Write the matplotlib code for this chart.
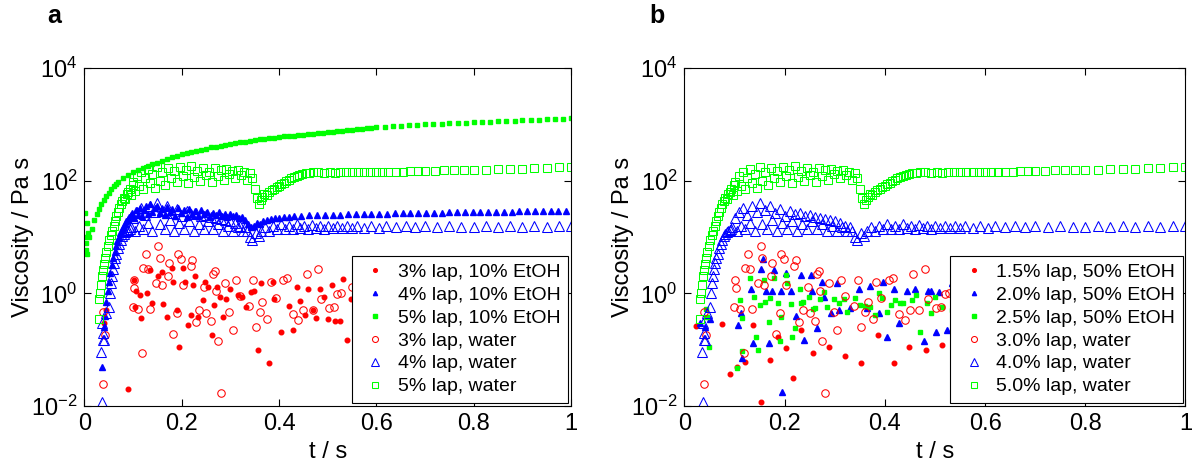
import numpy as np
import matplotlib
matplotlib.use('Agg')
import matplotlib.pyplot as plt
from matplotlib.ticker import NullLocator

plt.rcParams['font.family'] = ['Liberation Sans', 'DejaVu Sans']
plt.rcParams['mathtext.default'] = 'regular'
plt.rcParams['axes.linewidth'] = 0.8

# Datos (t / s, viscosidad / Pa s)

# agua (iguales en a y b)
w_red = [(0.038, 0.025), (0.039, 0.46), (0.043, 0.18), (0.099, 0.58), (0.101, 1.7), (0.103, 1.26),
         (0.111, 0.52), (0.118, 0.089), (0.121, 2.8), (0.126, 5.0), (0.131, 2.7), (0.135, 0.52),
         (0.147, 1.5), (0.152, 6.9), (0.155, 4.2), (0.159, 1.4), (0.172, 2.0), (0.174, 3.5),
         (0.182, 0.19), (0.191, 0.45), (0.193, 5.0), (0.199, 4.0), (0.203, 1.4), (0.219, 3.0),
         (0.222, 3.9), (0.229, 0.31), (0.236, 0.50), (0.246, 1.3), (0.250, 0.44), (0.260, 0.32),
         (0.264, 2.2), (0.268, 2.5), (0.270, 1.1), (0.275, 0.14), (0.280, 0.017), (0.289, 1.5),
         (0.298, 0.47), (0.305, 0.22), (0.312, 1.7), (0.320, 0.90), (0.339, 0.60), (0.346, 1.7),
         (0.352, 0.25), (0.361, 0.47), (0.366, 0.71), (0.376, 0.35), (0.383, 1.6), (0.393, 0.82),
         (0.409, 1.7), (0.417, 1.9), (0.429, 0.43), (0.440, 0.34), (0.450, 0.50), (0.457, 2.2),
         (0.469, 0.50), (0.481, 2.7), (0.486, 0.78), (0.503, 0.54), (0.513, 0.58), (0.520, 0.97),
         (0.527, 1.0), (0.549, 1.3)]

w_blue = [(0.036, 0.012), (0.035, 0.09), (0.038, 0.15), (0.041, 0.15), (0.037, 0.30), (0.039, 0.20),
          (0.045, 0.45), (0.050, 0.58), (0.052, 1.0), (0.055, 1.5), (0.057, 2.0), (0.059, 2.7),
          (0.061, 3.4), (0.063, 4.2), (0.066, 5.1), (0.069, 6.3), (0.072, 7.6), (0.075, 9.0),
          (0.078, 10.5), (0.081, 11.5), (0.084, 12.5), (0.087, 13), (0.090, 13.5), (0.093, 14),
          (0.095, 15), (0.100, 22), (0.104, 13), (0.108, 28), (0.112, 16), (0.116, 33), (0.120, 14),
          (0.125, 25), (0.130, 18), (0.135, 36), (0.140, 13), (0.145, 28), (0.150, 40), (0.155, 17),
          (0.160, 30), (0.165, 14), (0.170, 35), (0.175, 20), (0.180, 27), (0.185, 13), (0.190, 32),
          (0.195, 18), (0.200, 24), (0.205, 14), (0.210, 29), (0.215, 19), (0.220, 26), (0.225, 13),
          (0.230, 27), (0.235, 17), (0.240, 24), (0.245, 14), (0.250, 25), (0.255, 19), (0.260, 23),
          (0.265, 14), (0.270, 22), (0.275, 17), (0.280, 21), (0.285, 13), (0.290, 20), (0.295, 16),
          (0.300, 19), (0.305, 13), (0.310, 18), (0.315, 15), (0.320, 16), (0.325, 13), (0.330, 15),
          (0.335, 13), (0.340, 10), (0.345, 9), (0.352, 12), (0.358, 10.5), (0.364, 13), (0.372, 15),
          (0.380, 13), (0.388, 16), (0.396, 14), (0.404, 17), (0.412, 14), (0.420, 16), (0.428, 14),
          (0.436, 17), (0.444, 14.5), (0.452, 16), (0.460, 14), (0.468, 16.5), (0.476, 14.5),
          (0.484, 16), (0.492, 14), (0.500, 15.5), (0.510, 14.5), (0.520, 16), (0.530, 14.5),
          (0.540, 15.5), (0.550, 14.5), (0.560, 15.5), (0.575, 14.5), (0.590, 15.5), (0.605, 14.5),
          (0.620, 15.5), (0.640, 15), (0.660, 15.5), (0.680, 15), (0.700, 15.5), (0.725, 15),
          (0.750, 15.5), (0.775, 15), (0.800, 15), (0.825, 15.5), (0.850, 15), (0.875, 15.5),
          (0.900, 15), (0.925, 15.5), (0.950, 15), (0.975, 15.5), (1.000, 15.5)]

w_green = [(0.030, 0.35), (0.031, 0.8), (0.033, 1.0), (0.035, 1.4), (0.037, 2.0), (0.039, 2.6),
           (0.041, 3.3), (0.043, 4.2), (0.045, 5.5), (0.048, 7), (0.051, 9), (0.054, 11), (0.057, 13),
           (0.060, 16), (0.063, 19), (0.066, 24), (0.069, 28), (0.072, 33), (0.075, 38), (0.078, 44),
           (0.081, 50), (0.084, 47), (0.087, 58), (0.090, 62), (0.093, 70), (0.096, 55), (0.099, 85),
           (0.100, 95), (0.104, 65), (0.108, 120), (0.112, 80), (0.116, 140), (0.120, 70), (0.125, 110),
           (0.130, 160), (0.135, 90), (0.140, 130), (0.145, 75), (0.150, 175), (0.155, 100),
           (0.160, 145), (0.166, 85), (0.172, 170), (0.178, 110), (0.184, 150), (0.190, 95),
           (0.196, 175), (0.202, 120), (0.208, 155), (0.214, 90), (0.220, 180), (0.226, 115),
           (0.232, 150), (0.238, 100), (0.244, 170), (0.250, 125), (0.256, 145), (0.262, 95),
           (0.268, 165), (0.274, 120), (0.280, 155), (0.286, 105), (0.292, 160), (0.298, 130),
           (0.304, 150), (0.310, 110), (0.316, 155), (0.322, 125), (0.328, 140), (0.334, 105),
           (0.340, 135), (0.345, 110), (0.350, 70), (0.355, 50), (0.358, 38), (0.362, 45), (0.366, 52),
           (0.370, 58), (0.375, 56), (0.380, 62), (0.385, 68), (0.390, 72), (0.395, 78), (0.400, 82),
           (0.405, 88), (0.410, 92), (0.415, 98), (0.420, 104), (0.425, 110), (0.430, 115),
           (0.436, 122), (0.442, 128), (0.448, 133), (0.455, 136), (0.462, 138), (0.470, 140),
           (0.480, 140), (0.492, 139), (0.505, 141), (0.515, 139), (0.525, 140), (0.538, 142),
           (0.550, 140), (0.562, 141), (0.575, 142), (0.588, 141), (0.600, 142), (0.612, 143),
           (0.625, 143), (0.640, 145), (0.655, 145), (0.670, 147), (0.685, 147), (0.700, 149),
           (0.720, 150), (0.740, 152), (0.760, 153), (0.780, 155), (0.800, 156), (0.825, 158),
           (0.850, 160), (0.875, 162), (0.900, 164), (0.925, 166), (0.950, 169), (0.975, 172),
           (1.000, 175)]

# a: 10% EtOH
a_red_etoh = [(0.040, 0.30), (0.045, 0.50), (0.090, 0.020), (0.103, 1.7), (0.104, 0.58), (0.107, 1.1),
              (0.114, 0.93), (0.116, 0.36), (0.128, 1.0), (0.135, 2.6), (0.140, 0.67), (0.152, 2.0),
              (0.159, 2.4), (0.162, 0.66), (0.170, 0.38), (0.180, 2.8), (0.182, 1.6), (0.190, 0.50),
              (0.195, 0.11), (0.203, 2.8), (0.207, 1.6), (0.212, 0.27), (0.219, 0.41), (0.224, 1.4),
              (0.227, 2.0), (0.234, 0.38), (0.243, 0.76), (0.248, 1.6), (0.255, 1.3), (0.262, 0.18),
              (0.267, 0.62), (0.272, 1.3), (0.279, 0.85), (0.285, 0.38), (0.292, 0.81), (0.299, 1.2),
              (0.316, 0.93), (0.323, 0.87), (0.332, 0.58), (0.342, 1.04), (0.348, 1.1), (0.356, 0.10),
              (0.364, 1.5), (0.380, 0.059), (0.388, 1.6), (0.390, 0.79), (0.404, 0.21), (0.420, 0.59),
              (0.429, 0.22), (0.436, 1.3), (0.443, 0.74), (0.453, 0.41), (0.460, 1.2), (0.470, 0.50),
              (0.477, 0.36), (0.484, 1.2), (0.492, 0.85), (0.501, 0.35), (0.508, 1.4), (0.515, 0.32),
              (0.525, 0.32), (0.532, 1.8), (0.539, 0.15), (0.547, 0.78)]

a_blue_etoh = [(0.037, 0.05), (0.040, 0.25), (0.042, 0.4), (0.045, 0.7), (0.048, 1.1), (0.050, 1.6),
               (0.053, 2.3), (0.056, 3.2), (0.059, 4.3), (0.062, 5.5), (0.065, 7), (0.068, 8.5),
               (0.071, 10), (0.074, 12), (0.077, 13.5), (0.080, 15), (0.083, 17), (0.086, 19),
               (0.089, 21), (0.092, 23), (0.095, 25), (0.098, 27), (0.102, 22), (0.106, 30), (0.110, 25),
               (0.114, 33), (0.118, 24), (0.122, 30), (0.126, 35), (0.130, 26), (0.135, 38), (0.140, 28),
               (0.145, 33), (0.150, 36), (0.155, 27), (0.160, 32), (0.165, 25), (0.170, 34), (0.175, 28),
               (0.180, 31), (0.186, 24), (0.192, 33), (0.198, 27), (0.204, 30), (0.210, 23), (0.216, 31),
               (0.222, 26), (0.228, 29), (0.234, 24), (0.240, 30), (0.246, 26), (0.252, 28), (0.258, 23),
               (0.264, 27), (0.270, 25), (0.276, 28), (0.282, 24), (0.288, 26), (0.294, 23), (0.300, 26),
               (0.306, 24), (0.312, 25), (0.318, 22), (0.324, 23), (0.330, 20), (0.336, 17), (0.342, 15),
               (0.348, 16), (0.354, 18), (0.360, 17), (0.368, 19), (0.376, 20), (0.384, 21),
               (0.392, 21.5), (0.400, 22), (0.410, 22.5), (0.420, 23), (0.430, 24), (0.446, 24),
               (0.462, 24.5), (0.478, 24.5), (0.494, 25), (0.510, 25), (0.526, 25), (0.542, 25.5),
               (0.558, 25.5), (0.574, 25.5), (0.590, 26), (0.606, 26), (0.622, 26), (0.638, 26.5),
               (0.654, 26.5), (0.670, 26.5), (0.686, 27), (0.702, 27), (0.718, 27), (0.734, 27),
               (0.750, 27.5), (0.766, 27.5), (0.782, 27.5), (0.798, 27.5), (0.814, 28), (0.830, 28),
               (0.846, 28), (0.862, 28), (0.878, 28), (0.894, 28.5), (0.910, 28.5), (0.926, 28.5),
               (0.942, 28.5), (0.958, 29), (0.974, 29), (0.990, 29)]

a_green_etoh = [(0.001, 10), (0.002, 27), (0.003, 8), (0.004, 6), (0.005, 18), (0.006, 5), (0.008, 12),
                (0.010, 10), (0.015, 14), (0.020, 20), (0.025, 26), (0.030, 32), (0.035, 38), (0.040, 46),
                (0.045, 53), (0.050, 60), (0.055, 70), (0.060, 80), (0.065, 88), (0.070, 95), (0.080, 110),
                (0.090, 125), (0.100, 140), (0.110, 152), (0.120, 165), (0.130, 180), (0.140, 195),
                (0.150, 210), (0.160, 225), (0.170, 240), (0.180, 260), (0.190, 280), (0.200, 300),
                (0.210, 312), (0.220, 325), (0.230, 340), (0.240, 355), (0.250, 370), (0.260, 390),
                (0.270, 405), (0.280, 420), (0.290, 435), (0.300, 450), (0.310, 465), (0.320, 480),
                (0.330, 495), (0.340, 510), (0.350, 525), (0.360, 540), (0.370, 555), (0.380, 570),
                (0.390, 585), (0.400, 600), (0.410, 612), (0.420, 625), (0.430, 635), (0.440, 645),
                (0.450, 655), (0.460, 665), (0.470, 680), (0.480, 695), (0.490, 710), (0.500, 725),
                (0.510, 740), (0.520, 755), (0.530, 770), (0.540, 785), (0.550, 800), (0.560, 815),
                (0.570, 830), (0.580, 850), (0.590, 870), (0.600, 885), (0.617, 900), (0.634, 920),
                (0.650, 945), (0.667, 965), (0.684, 990), (0.700, 1000), (0.717, 1020), (0.734, 1035),
                (0.750, 1050), (0.767, 1065), (0.784, 1080), (0.800, 1095), (0.817, 1110), (0.834, 1125),
                (0.850, 1140), (0.867, 1155), (0.884, 1170), (0.900, 1185), (0.917, 1200), (0.934, 1215),
                (0.950, 1230), (0.967, 1250), (0.984, 1265), (1.000, 1280)]

# b: 50% EtOH
b_red_etoh = [(0.023, 0.26), (0.074, 0.29), (0.090, 0.037), (0.104, 0.049), (0.120, 0.061), (0.136, 0.28),
              (0.153, 0.012), (0.170, 0.066), (0.186, 0.17), (0.202, 0.105), (0.216, 0.032), (0.232, 0.22),
              (0.256, 0.086), (0.288, 0.11), (0.320, 0.077), (0.352, 0.057), (0.387, 0.18), (0.418, 0.059),
              (0.448, 0.11), (0.483, 0.098), (0.515, 0.12)]

b_blue_etoh = [(0.030, 0.30), (0.040, 0.25), (0.050, 0.35), (0.106, 0.28), (0.113, 0.44), (0.114, 0.070),
               (0.132, 1.2), (0.136, 0.13), (0.153, 2.7), (0.156, 4.0), (0.163, 1.1), (0.168, 0.13),
               (0.174, 1.1), (0.178, 2.6), (0.192, 1.1), (0.194, 0.018), (0.203, 2.3), (0.212, 1.1),
               (0.222, 0.40), (0.232, 2.1), (0.239, 0.15), (0.252, 2.1), (0.254, 1.1), (0.264, 0.24),
               (0.274, 1.6), (0.279, 0.87), (0.292, 0.44), (0.304, 1.5), (0.308, 0.50), (0.330, 0.54),
               (0.349, 1.2), (0.364, 0.54), (0.371, 1.35), (0.388, 0.45), (0.396, 1.6), (0.404, 0.17),
               (0.419, 1.2), (0.428, 0.30), (0.444, 1.1), (0.461, 1.2), (0.478, 0.14), (0.486, 1.1),
               (0.492, 1.1), (0.502, 0.21), (0.508, 1.07), (0.524, 0.22), (0.533, 1.5)]

b_green_etoh = [(0.043, 0.52), (0.044, 0.38), (0.048, 0.11), (0.104, 0.047), (0.111, 0.76), (0.114, 0.36),
                (0.115, 0.096), (0.130, 1.9), (0.138, 0.87), (0.143, 0.17), (0.146, 0.098), (0.151, 0.62),
                (0.158, 1.7), (0.161, 0.71), (0.168, 0.31), (0.170, 0.82), (0.179, 1.9), (0.186, 0.67),
                (0.190, 0.14), (0.193, 0.38), (0.203, 2.1), (0.204, 1.5), (0.212, 0.65), (0.214, 0.17),
                (0.220, 0.24), (0.230, 1.2), (0.232, 0.67), (0.236, 0.71), (0.248, 0.85), (0.256, 0.52),
                (0.260, 0.54), (0.271, 0.78), (0.278, 1.07), (0.284, 0.58), (0.299, 0.78), (0.308, 0.67),
                (0.318, 0.78), (0.324, 0.47), (0.341, 0.82), (0.351, 0.62), (0.361, 0.60), (0.371, 0.58),
                (0.381, 0.41), (0.388, 1.0), (0.394, 0.82), (0.404, 0.47), (0.412, 0.62), (0.421, 0.76),
                (0.430, 0.68), (0.436, 0.67), (0.454, 0.76), (0.462, 0.93), (0.470, 0.21), (0.484, 0.68),
                (0.492, 0.45), (0.501, 0.87), (0.514, 0.58), (0.534, 0.50)]

labels_a = ['3% lap, 10% EtOH', '4% lap, 10% EtOH', '5% lap, 10% EtOH',
            '3% lap, water', '4% lap, water', '5% lap, water']
labels_b = ['1.5% lap, 50% EtOH', '2.0% lap, 50% EtOH', '2.5% lap, 50% EtOH',
            '3.0% lap, water', '4.0% lap, water', '5.0% lap, water']

x_ticks = [0, 0.2, 0.4, 0.6, 0.8, 1]
x_tick_labels = ['0', '0.2', '0.4', '0.6', '0.8', '1']
y_ticks = [1e-2, 1e0, 1e2, 1e4]
y_tick_labels = ['$10^{-2}$', '$10^{0}$', '$10^{2}$', '$10^{4}$']

ROJO, AZUL, VERDE = '#ff0000', '#0000ff', '#00ff00'
ESTILOS = [
    dict(marker='o', ms=3.3, color=ROJO, mec=ROJO),
    dict(marker='^', ms=3.8, color=AZUL, mec=AZUL),
    dict(marker='s', ms=3.3, color=VERDE, mec=VERDE),
    dict(marker='o', ms=5.4, mfc='none', mec=ROJO, mew=0.75),
    dict(marker='^', ms=6.8, mfc='none', mec=AZUL, mew=0.75),
    dict(marker='s', ms=6.0, mfc='none', mec=VERDE, mew=0.75),
]


def dibujar(ax, series, labels):
    for datos, lab, est in zip(series, labels, ESTILOS):
        t, v = np.array(datos).T
        ax.plot(t, v, linestyle='none', label=lab, **est)

    ax.set_yscale('log')
    ax.set_xlim(0, 1)
    ax.set_ylim(1e-2, 1e4)
    ax.set_xticks(x_ticks)
    ax.set_xticklabels(x_tick_labels)
    ax.set_yticks(y_ticks)
    ax.set_yticklabels(y_tick_labels)
    ax.yaxis.set_minor_locator(NullLocator())
    ax.tick_params(direction='in', top=True, right=True, length=5, width=0.8,
                   labelsize=17, pad=5)
    ax.set_xlabel('t / s', fontsize=17, labelpad=4)
    ax.set_ylabel('Viscosity / Pa s', fontsize=17, labelpad=-2)

    leg = ax.legend(loc='lower right', fontsize=14, numpoints=1, fancybox=False,
                    edgecolor='black', framealpha=1, borderaxespad=0.15,
                    labelspacing=0.27, handlelength=1.6, handletextpad=0.35,
                    borderpad=0.4, markerscale=0.8)
    leg.get_frame().set_linewidth(0.8)


fig = plt.figure(figsize=(12, 4.61), dpi=100)
ax_a = fig.add_axes([0.0703, 0.1193, 0.4055, 0.733])
ax_b = fig.add_axes([0.5704, 0.1193, 0.4175, 0.733])

dibujar(ax_a, [a_red_etoh, a_blue_etoh, a_green_etoh, w_red, w_blue, w_green], labels_a)
dibujar(ax_b, [b_red_etoh, b_blue_etoh, b_green_etoh, w_red, w_blue, w_green], labels_b)

fig.text(0.039, 0.95, 'a', fontsize=18, fontweight='bold', va='baseline')
fig.text(0.541, 0.95, 'b', fontsize=18, fontweight='bold', va='baseline')

fig.savefig('out.png', dpi=100)
